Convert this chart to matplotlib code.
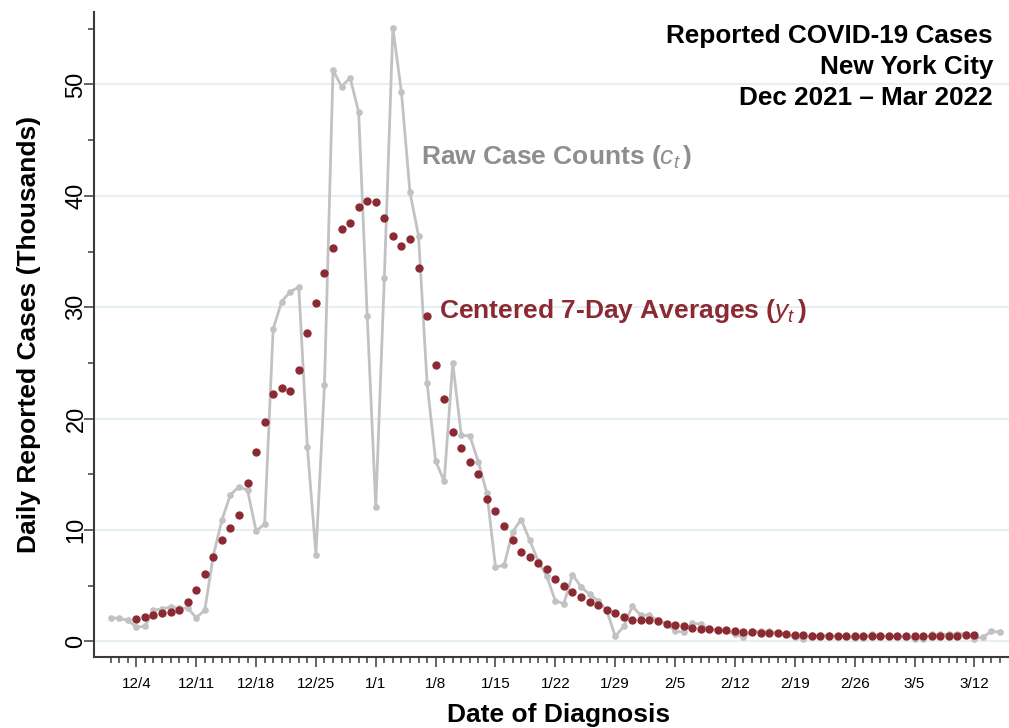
import numpy as np
import pandas as pd
import matplotlib
matplotlib.use("Agg")
import matplotlib.pyplot as plt

plt.rcParams["font.family"] = ["Liberation Sans", "DejaVu Sans"]
plt.rcParams["mathtext.fontset"] = "custom"
plt.rcParams["mathtext.rm"] = "Liberation Sans"
plt.rcParams["mathtext.it"] = "Liberation Sans:italic"
plt.rcParams["mathtext.bf"] = "Liberation Sans:bold"

# ── data (thousands of cases) ───────────────────────────────────────────────
raw_dates = pd.date_range("2021-12-01", "2022-03-15", freq="D")
raw_cases = [
    # Dec
    2.13, 2.07, 1.89, 1.29, 1.35, 2.79, 2.91, 3.09, 2.97, 3.00,
    2.13, 2.79, 7.70, 10.88, 13.16, 13.88, 13.58, 9.92, 10.52, 28.06,
    30.50, 31.40, 31.80, 17.47, 7.79, 23.00, 51.30, 49.80, 50.60, 47.50,
    29.20,
    # Jan
    12.05, 32.60, 55.10, 49.30, 40.30, 36.40, 23.20, 16.20, 14.36, 25.00,
    18.50, 18.46, 16.10, 13.28, 6.68, 6.83, 9.83, 10.94, 9.08, 7.20,
    5.85, 3.63, 3.39, 6.00, 4.89, 4.23, 3.63, 2.79, 0.45, 1.35,
    3.15,
    # Feb
    2.34, 2.34, 1.89, 1.59, 0.93, 0.84, 1.65, 1.53, 1.14, 0.99,
    0.93, 0.63, 0.39, 0.90, 0.90, 0.90, 0.75, 0.63, 0.39, 0.24,
    0.54, 0.54, 0.54, 0.45, 0.45, 0.33, 0.33, 0.63,
    # Mar
    0.54, 0.45, 0.45, 0.39, 0.24, 0.24, 0.63, 0.63, 0.63, 0.69,
    0.69, 0.24, 0.39, 0.90, 0.84,
]

avg_dates = pd.date_range("2021-12-04", "2022-03-12", freq="D")
avg_cases = [
    # Dec
    2.04, 2.16, 2.34, 2.52, 2.64, 2.82, 3.51, 4.65, 6.09, 7.62,
    9.11, 10.19, 11.33, 14.24, 17.03, 19.66, 22.24, 22.78, 22.51, 24.37,
    27.70, 30.40, 33.10, 35.30, 37.00, 37.60, 39.00, 39.50,
    # Jan
    39.45, 38.00, 36.40, 35.50, 36.10, 33.50, 29.25, 24.80, 21.80, 18.80,
    17.40, 16.07, 14.99, 12.80, 11.70, 10.37, 9.08, 8.00, 7.58, 7.04,
    6.53, 5.64, 4.95, 4.44, 3.99, 3.54, 3.30, 2.85, 2.55, 2.19,
    1.89,
    # Feb
    1.89, 1.89, 1.83, 1.59, 1.44, 1.35, 1.23, 1.14, 1.14, 1.05,
    0.99, 0.90, 0.81, 0.84, 0.75, 0.75, 0.75, 0.63, 0.54, 0.54,
    0.51, 0.51, 0.51, 0.51, 0.51, 0.45, 0.45, 0.51,
    # Mar
    0.51, 0.51, 0.45, 0.45, 0.45, 0.45, 0.51, 0.51, 0.51, 0.51,
    0.54, 0.54,
]

major_dates = pd.date_range("2021-12-04", "2022-03-12", freq="7D")
major_labels = ["12/4", "12/11", "12/18", "12/25", "1/1", "1/8", "1/15",
                "1/22", "1/29", "2/5", "2/12", "2/19", "2/26", "3/5", "3/12"]
y_ticks = [0, 10, 20, 30, 40, 50]

GRAY = "#c2c2c2"
GRAY_TXT = "#8e8e8e"
RED = "#8b2a33"
SPINE = "#3a3a3a"

# ─────────────────────────────────────────────────────────────────────────────

fig = plt.figure(figsize=(10.09, 7.28), dpi=100)
ax = fig.add_axes([94 / 1009, 71 / 728, 924 / 1009, 645 / 728])

ax.plot(raw_dates, raw_cases, color=GRAY, linewidth=2.0, marker="o",
        markersize=3.8, zorder=2)
ax.plot(avg_dates, avg_cases, linestyle="none", marker="o", color=RED,
        markersize=5.0, zorder=3)

ax.set_xlim(pd.Timestamp("2021-12-01") - pd.Timedelta(days=1.95),
            pd.Timestamp("2021-12-01") + pd.Timedelta(days=106.1))
ax.set_ylim(-1.4, 56.5)

ax.set_xticks(major_dates)
ax.set_xticklabels(major_labels)
ax.set_xticks(raw_dates, minor=True)
ax.set_yticks(y_ticks)
ax.set_yticks([5, 15, 25, 35, 45, 55], minor=True)

for side in ["top", "right"]:
    ax.spines[side].set_visible(False)
for side in ["left", "bottom"]:
    ax.spines[side].set_color(SPINE)
    ax.spines[side].set_linewidth(1.5)

ax.tick_params(axis="both", which="major", length=7.5, width=1.1,
               color=SPINE, direction="out")
ax.tick_params(axis="both", which="minor", length=4.5, width=1.1,
               color=SPINE, direction="out")
ax.tick_params(axis="x", which="major", labelsize=11, pad=7)
ax.tick_params(axis="y", which="major", labelsize=17, pad=-2.8, labelrotation=90)
for lab in ax.get_yticklabels():
    lab.set_va("center")

ax.grid(axis="y", which="major", color="#e6eff1", linewidth=1.5, zorder=0)
ax.set_axisbelow(True)

ax.set_ylabel("Daily Reported Cases (Thousands)", fontsize=19,
              fontweight="bold")
ax.yaxis.set_label_coords(-0.0575, 0.5)
ax.set_xlabel("Date of Diagnosis", fontsize=19, fontweight="bold")
ax.xaxis.set_label_coords(0.503, -0.072)
ax.xaxis.label.set_va("top")

# series labels
t0 = pd.Timestamp("2021-12-01")
ax.text(t0 + pd.Timedelta(days=36.3), 43.5,
        r"Raw Case Counts ($c_t\,$)", color=GRAY_TXT, fontsize=19,
        fontweight="bold", ha="left", va="center")
ax.text(t0 + pd.Timedelta(days=38.4), 29.7,
        r"Centered 7-Day Averages ($y_t\,$)", color=RED, fontsize=19,
        fontweight="bold", ha="left", va="center")

# title block
for txt, yb in [("Reported COVID-19 Cases", 43),
                ("New York City", 74),
                ("Dec 2021 \u2013 Mar 2022", 105)]:
    fig.text(993 / 1009, 1 - yb / 728, txt, ha="right", va="baseline",
             fontsize=18.8, fontweight="bold", color="black")

fig.savefig("out.png", dpi=100)
